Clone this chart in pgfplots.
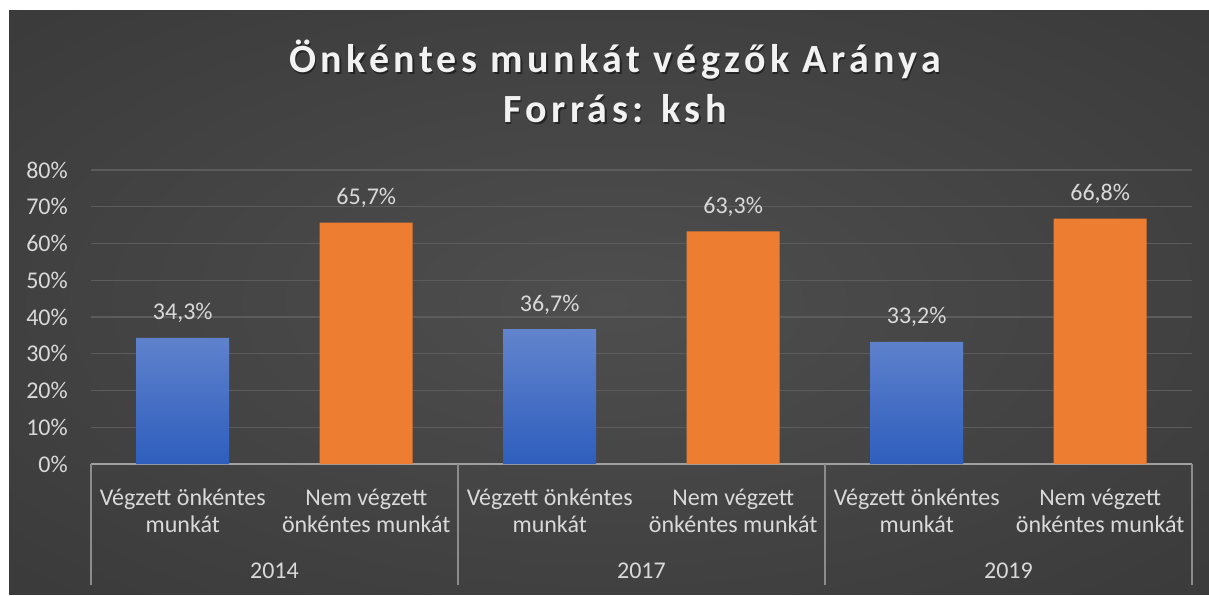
\documentclass[border=0pt]{standalone}
\usepackage{fontspec}
\setmainfont{Carlito}
\newfontfamily\titlefont[LetterSpace=11]{Carlito}
\usepackage{pgfplots}
\pgfplotsset{compat=1.18}
\definecolor{bgin}{HTML}{4E4E4E}
\definecolor{bgout}{HTML}{262626}
\definecolor{blueTop}{HTML}{6284CD}
\definecolor{blueBot}{HTML}{2E5EBD}
\definecolor{orng}{HTML}{ED7D31}
\definecolor{lbl}{HTML}{D9D9D9}
\definecolor{gridc}{HTML}{5C5C5C}
\definecolor{sepc}{HTML}{8C8C8C}
\definecolor{axc}{HTML}{A0A0A0}
\definecolor{ttl}{HTML}{F2F2F2}
\pgfdeclareradialshading{bgshade}{\pgfpoint{0bp}{0bp}}{color(0bp)=(bgin); color(72bp)=(bgout)}
\begin{document}
\begin{tikzpicture}
\fill[white] (0,0) rectangle (1209pt,595pt);
\shade[shading=bgshade] (9pt,1pt) rectangle (1209pt,584pt);
% title with shadow
\begin{scope}[every node/.style={font=\titlefont\bfseries\fontsize{40}{48}\selectfont, anchor=base, inner sep=0pt}]
\node[text=black, opacity=0.45] at (616.5pt,520.5pt) {Önkéntes munkát végzők Aránya};
\node[text=black, opacity=0.45] at (616.5pt,470.5pt) {Forrás: ksh};
\node[text=ttl] at (615pt,522pt) {Önkéntes munkát végzők Aránya};
\node[text=ttl] at (615pt,472pt) {Forrás: ksh};
\end{scope}
\begin{axis}[
  at={(91pt,131pt)}, anchor=south west,
  scale only axis, width=1101pt, height=294pt,
  xmin=-0.5, xmax=5.5, ymin=0, ymax=80,
  clip=false,
  axis y line*=left, y axis line style={draw=none},
  axis x line*=bottom, x axis line style={draw=axc, line width=2.2pt},
  major tick length=0pt,
  ytick={0,10,...,80},
  yticklabel={\pgfmathprintnumber{\tick}\%},
  /pgf/number format/assume math mode=true,
  yticklabel style={text=lbl, font=\fontsize{24}{29}\selectfont, inner sep=0pt, xshift=-23pt},
  ymajorgrids, grid style={draw=gridc, line width=1.4pt},
  xtick={0,1,2,3,4,5},
  xticklabels={{Végzett önkéntes\\munkát},{Nem végzett\\önkéntes munkát},{Végzett önkéntes\\munkát},{Nem végzett\\önkéntes munkát},{Végzett önkéntes\\munkát},{Nem végzett\\önkéntes munkát}},
  xticklabel style={text=lbl, font=\fontsize{24}{27}\selectfont, align=center, inner sep=0pt, yshift=-25pt},
  ybar, bar width=93pt, bar shift=0pt,
  nodes near coords={\pgfmathprintnumber[fixed,fixed zerofill,precision=1,use comma]{\pgfplotspointmeta}\%},
  every node near coord/.append style={text=lbl, font=\fontsize{24}{29}\selectfont, anchor=base, inner sep=0pt, yshift=18pt},
]
\addplot[draw=none, top color=blueTop, bottom color=blueBot] coordinates {(0,34.3) (2,36.7) (4,33.2)};
\addplot[draw=none, fill=orng] coordinates {(1,65.7) (3,63.3) (5,66.8)};
\foreach \xx in {-0.5,1.5,3.5,5.5}{
  \edef\tmp{\noexpand\draw[sepc, line width=2pt] (axis cs:\xx,0) -- ++(0pt,-121pt);}
  \tmp
}
\node[text=lbl, font=\fontsize{24}{29}\selectfont, anchor=base, inner sep=0pt] at (axis cs:0.5,0) [yshift=-114pt] {2014};
\node[text=lbl, font=\fontsize{24}{29}\selectfont, anchor=base, inner sep=0pt] at (axis cs:2.5,0) [yshift=-114pt] {2017};
\node[text=lbl, font=\fontsize{24}{29}\selectfont, anchor=base, inner sep=0pt] at (axis cs:4.5,0) [yshift=-114pt] {2019};
\end{axis}
\end{tikzpicture}
\end{document}
